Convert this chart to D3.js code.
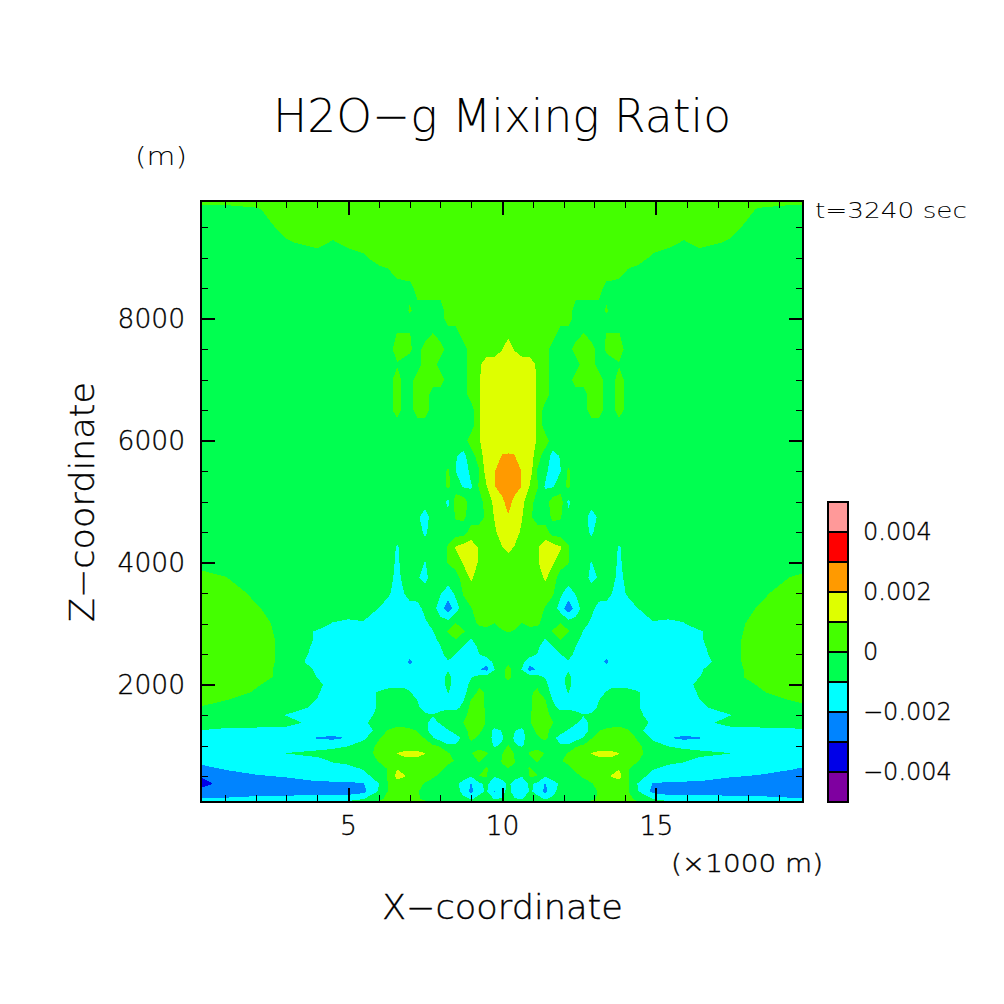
<!DOCTYPE html>
<html>
<head>
<meta charset="utf-8">
<script src="https://cdn.jsdelivr.net/npm/d3@7"></script>
<style>
html, body { margin: 0; padding: 0; background: #fff; }
svg { display: block; }
text { font-family: "DejaVu Sans", sans-serif; font-weight: 200; fill: #000; }
.medium { stroke: #000; stroke-width: 0.35px; }
</style>
</head>
<body>
<svg id="chart" width="1004" height="1004"></svg>
<script>
// band middles, in units of 0.001
const G = -.5, L = .5, C = -1.5, Y = 1.5, O = 2.5;

const bandEdges = [-5, -4, -3, -2, -1, 0, 1, 2, 3, 4];
const bandColors = ['#7f00a0', '#0000e8', '#0084ff', '#00ffff', '#00ff50', '#44ff00', '#deff00', '#ff9a00', '#ff0000', '#ff9999'];

const xMajor = [5, 10, 15];
const xMinor = [1, 2, 3, 4, 6, 7, 8, 9, 11, 12, 13, 14, 16, 17, 18, 19];
const zMajor = [2000, 4000, 6000, 8000];
const zMinor = [500, 1000, 1500, 2500, 3000, 3500, 4500, 5000, 5500, 6500, 7000, 7500, 8500, 9000, 9500];
const legendTicks = [-0.004, -0.002, 0, 0.002, 0.004];

// left half of the field, the picture mirrors it around x = 10.2 km
const xKmHalf = [.225, 1, 2, 3, 4, 4.5, 5, 5.5, 6, 6.3, 6.6, 6.85, 7, 7.25, 7.5, 7.75, 8, 8.25, 8.5, 8.75, 9, 9.25, 9.5, 9.75, 10, 10.2];
const zMetres = [9930, 9800, 9500, 9250, 9000, 8750, 8500, 8125, 8000, 7750, 7500, 7250, 7000, 6750, 6500, 6250, 6000, 5750, 5500, 5250, 5000, 4750, 4500, 4250, 4000, 3750, 3500, 3250, 3000, 2875, 2750, 2625, 2500, 2375, 2250, 2125, 2000, 1875, 1750, 1625, 1500, 1375, 1250, 1125, 1000, 875, 750, 625, 500, 375, 250, 125, 76];

const fieldHalf = [
  [L,L,L,L,L,L,L,L,L,L,L,L,L,L,L,L,L,L,L,L,L,L,L,L,L,L],
  [G,G,-.1,L,L,L,L,L,L,L,L,L,L,L,L,L,L,L,L,L,L,L,L,L,L,L],
  [G,G,G,.3,L,L,L,L,L,L,L,L,L,L,L,L,L,L,L,L,L,L,L,L,L,L],
  [G,G,G,-.1,.3,-.1,.3,L,L,L,L,L,L,L,L,L,L,L,L,L,L,L,L,L,L,L],
  [G,G,G,G,G,G,G,-.2,L,L,L,L,L,L,L,L,L,L,L,L,L,L,L,L,L,L],
  [G,G,G,G,G,G,G,G,G,-.2,.3,L,L,L,L,L,L,L,L,L,L,L,L,L,L,L],
  [G,G,G,G,G,G,G,G,G,G,G,G,G,L,L,L,L,L,L,L,L,L,L,L,L,L],
  [G,G,G,G,G,G,G,G,G,G,G,G,.2,G,G,G,G,L,L,L,L,L,L,L,L,L],
  [G,G,G,G,G,G,G,G,G,G,G,G,G,G,G,G,G,L,L,L,L,L,L,L,L,L],
  [G,G,G,G,G,G,G,G,G,G,.05,.05,.05,G,G,.05,G,G,G,L,L,L,L,L,L,.8],
  [G,G,G,G,G,G,G,G,G,G,L,L,.2,G,L,L,L,G,G,G,L,L,L,L,.95,Y],
  [G,G,G,G,G,G,G,G,G,G,-.1,G,G,G,L,L,G,G,G,G,L,.8,Y,Y,Y,Y],
  [G,G,G,G,G,G,G,G,G,G,L,G,G,L,L,L,L,G,G,G,L,.9,Y,Y,Y,Y],
  [G,G,G,G,G,G,G,G,G,G,L,G,G,L,L,G,G,G,G,G,L,.9,Y,Y,Y,Y],
  [G,G,G,G,G,G,G,G,G,G,L,G,G,L,L,G,G,G,G,G,G,.9,Y,Y,Y,Y],
  [G,G,G,G,G,G,G,G,G,G,G,G,G,G,G,G,G,G,G,G,G,.9,Y,Y,Y,Y],
  [G,G,G,G,G,G,G,G,G,G,G,G,G,G,G,G,G,G,G,G,L,.9,Y,Y,Y,Y],
  [G,G,G,G,G,G,G,G,G,G,G,G,G,G,G,G,G,G,-.95,-1.25,G,L,Y,Y,2.05,2.1],
  [G,G,G,G,G,G,G,G,G,G,G,G,G,G,G,G,G,.15,-1.02,-1.6,-.7,-.1,Y,1.95,O,O],
  [G,G,G,G,G,G,G,G,G,G,G,G,G,G,G,G,G,.2,G,-1.1,-1.1,.1,.95,1.95,O,2.6],
  [G,G,G,G,G,G,G,G,G,G,G,G,G,G,G,G,G,-1.2,L,L,G,G,L,1.2,1.7,O],
  [G,G,G,G,G,G,G,G,G,G,G,G,G,-.8,C,G,G,-.8,.1,.2,G,G,.2,1.05,1.6,1.9],
  [G,G,G,G,G,G,G,G,G,G,G,G,G,G,-1.2,G,G,G,G,G,L,L,L,.8,Y,1.6],
  [G,G,G,G,G,G,G,G,G,G,-1.1,G,G,G,G,G,G,.1,1.1,Y,Y,.9,L,L,.95,1.3],
  [G,G,G,G,G,G,G,G,G,G,-1.2,G,G,G,-1.05,G,G,.05,L,1.1,Y,.9,L,L,L,L],
  [L,.05,G,G,G,G,G,G,G,G,-1.4,G,G,-.9,-1.3,G,G,G,G,L,1.15,L,L,L,L,L],
  [L,L,-.2,G,G,G,G,G,G,-.8,C,-.95,G,G,G,G,-.9,C,-.8,.1,L,L,L,L,L,L],
  [L,L,.1,G,G,G,G,G,-1.02,C,C,C,C,-1.4,-.7,G,-1.6,-2.6,-1.4,G,-.05,L,L,L,L,L],
  [L,L,L,G,G,-1.05,-1.2,-1.1,C,C,C,C,C,C,-1.2,-.7,G,G,.05,G,G,.2,.4,-.05,.4,L],
  [L,L,L,-.4,-1.1,C,C,C,C,C,C,C,C,C,C,-1.05,G,.1,L,.1,G,G,G,G,-.1,.1],
  [L,L,L,-.3,-1.1,C,C,C,C,C,C,C,C,C,C,-1.2,-.8,G,.05,G,-1.03,G,G,G,G,G],
  [L,L,L,-.3,-1.2,C,C,C,C,C,C,C,C,C,C,C,-1.02,G,G,-1.02,C,-.8,G,G,G,G],
  [L,L,L,-.3,-1.3,C,C,C,C,C,C,C,C,C,C,C,-1.2,-.7,-1.02,C,C,-1.02,G,G,G,G],
  [L,L,L,-.3,C,C,C,C,C,C,C,C,-2.3,C,C,C,C,-1.05,C,C,C,C,-1.7,-.7,G,-.3],
  [L,L,L,-.4,-1.1,C,C,C,C,C,C,C,C,C,C,C,C,-1.1,C,C,C,-1.9,-2.3,-1.05,G,L],
  [L,L,L,-.4,-1.02,C,C,C,C,C,C,C,C,C,C,C,C,-.7,C,C,-1.05,-.7,-.6,G,G,L],
  [L,L,.1,G,-.7,C,C,C,C,C,C,C,C,C,C,C,C,-.7,C,C,-.7,-.1,G,G,G,G],
  [L,L,-.1,G,-.9,C,C,C,-.9,G,G,G,-.9,C,C,C,C,-.95,C,-1.3,G,.15,-.1,G,G,G],
  [L,.05,G,G,-1.02,C,C,C,-.9,G,G,G,G,-1.02,C,C,C,C,C,-1.05,.05,L,-.2,G,G,G],
  [-.1,G,G,G,-1.2,C,C,C,-.9,G,G,G,G,-.8,C,C,C,-1.2,-1.3,-.7,.3,L,-.2,G,G,G],
  [G,G,G,-1.05,C,C,C,C,-.7,G,G,G,G,G,-.8,-.95,G,G,G,-.3,.4,L,-.1,G,G,G],
  [G,G,G,G,C,C,C,-1.2,G,G,G,G,G,G,-.8,-1.3,-.9,G,G,.05,L,L,-.1,G,G,G],
  [-1.02,-1.2,-1.3,C,C,C,C,C,-.7,.05,L,.3,.2,-.05,-.7,C,C,-1.05,G,G,L,.3,G,-1.2,-.95,G],
  [-1.2,C,C,C,-2.05,-2.2,-1.95,-1.2,-.1,L,L,L,L,.3,-.05,-.9,C,C,C,-.7,.3,-.2,G,-1.3,-1.1,G],
  [C,C,C,C,C,-1.3,-1.05,-.6,.2,L,L,L,L,L,.4,.1,-.1,-.9,-.9,G,G,G,G,-1.1,-.9,.1],
  [C,C,C,-.98,-.7,-.6,G,G,.3,L,1.02,1.2,1.2,1.2,1.02,L,.4,.1,G,G,-.05,L,.1,G,-.1,1.05],
  [-1.7,-1.6,C,C,-1.3,-.9,-.7,G,.05,L,.8,.8,.8,.8,.8,L,L,.3,-.1,G,G,.1,-.3,G,.05,.7],
  [-2.3,-1.9,-1.6,C,C,-1.4,-1.3,-.9,-.3,.05,.95,L,L,L,L,L,.3,-.3,G,G,G,G,.1,G,-.1,-.05],
  [-2.9,-2.5,-2.1,-1.9,-1.6,C,C,-1.4,G,.05,1.4,1.05,L,L,L,.2,-.3,G,G,G,-.95,.05,.05,-.95,G,G],
  [-3.5,-2.5,-2.5,-2.5,-2.2,-2.2,-2.15,-2.05,-1.02,.05,L,L,L,.4,-.1,G,G,G,-.8,-1.4,-2.05,-1.2,-.8,-1.6,C,-.7],
  [-2.6,-2.5,-2.5,-2.5,-2.5,-2.5,-2.5,-2.3,-.9,.05,L,L,L,.1,-.4,G,G,G,-.6,-1.3,-2.3,-1.2,-.9,-2.05,C,-.6],
  [-1.9,-1.9,-1.7,-1.6,C,C,-1.4,-1.02,-.3,.3,L,L,L,.2,-.3,G,G,G,G,-.8,-1.05,-.8,G,-1.05,-.9,G],
  [C,C,C,C,C,-1.2,-.8,G,.1,.3,.3,.3,.3,.3,.3,.3,.3,.3,.3,.3,.3,.3,.3,.3,.3,.3]
];

const xKm = xKmHalf.concat(xKmHalf.slice(0, -1).reverse().map(d => 20.4 - d));
const fieldRows = fieldHalf.map(row => row.concat(row.slice(0, -1).reverse()));

const svg = d3.select('#chart');
const x = d3.scaleLinear().domain([0.225, 19.775]).range([201, 803]);
const z = d3.scaleLinear().domain([76, 9930]).range([802, 201]);
const legendScale = d3.scaleLinear().domain([-0.005, 0.005]).range([802, 502]);

// contour coordinates have node i at i + 0.5
const atIndex = (values, p) => {
    const t = Math.max(0, Math.min(values.length - 1, p - 0.5));
    const i = Math.min(values.length - 2, Math.floor(t));
    return values[i] + (values[i + 1] - values[i]) * (t - i);
};

const contourPath = (geometry) => geometry.coordinates.map(polygon =>
    polygon.map(ring =>
        'M' + ring.map(p => `${x(atIndex(xKm, p[0]))},${z(atIndex(zMetres, p[1]))}`).join('L') + 'Z'
    ).join('')
).join('');

svg.append('clipPath').attr('id', 'plot-clip')
    .append('rect').attr('x', 201).attr('y', 201).attr('width', 602).attr('height', 601);

const contours = d3.contours()
    .size([xKm.length, zMetres.length])
    .thresholds(bandEdges)(fieldRows.flat());

svg.append('g')
    .attr('clip-path', 'url(#plot-clip)')
    .selectAll('path')
    .data(contours)
    .enter()
    .append('path')
    .attr('d', contourPath)
    .attr('fill', (d, i) => bandColors[i])
    .attr('shape-rendering', 'crispEdges');

const drawTicks = (axis, translate, values, size, width) => {
    const g = svg.append('g').attr('transform', translate)
        .call(axis.tickValues(values).tickSize(size).tickSizeOuter(0).tickFormat(''));
    g.select('.domain').remove();
    g.selectAll('line').attr('stroke', '#000').attr('stroke-width', width).attr('shape-rendering', 'crispEdges');
    return g;
};

[[d3.axisBottom(x), 'translate(0,802)'], [d3.axisTop(x), 'translate(0,201)']].forEach(([axis, t]) => {
    drawTicks(axis, t, xMinor, -7, 1);
    drawTicks(axis, t, xMajor, -14, 2);
});
[[d3.axisLeft(z), 'translate(201,0)'], [d3.axisRight(z), 'translate(803,0)']].forEach(([axis, t]) => {
    drawTicks(axis, t, zMinor, -7, 1);
    drawTicks(axis, t, zMajor, -14, 2);
});

svg.append('rect')
    .attr('x', 201).attr('y', 201).attr('width', 602).attr('height', 601)
    .attr('fill', 'none').attr('stroke', '#000').attr('stroke-width', 2)
    .attr('shape-rendering', 'crispEdges');

const bottomLabels = svg.append('g').attr('transform', 'translate(0,802)')
    .call(d3.axisBottom(x).tickValues(xMajor).tickSize(0).tickPadding(14).tickFormat(d3.format('d')));
bottomLabels.select('.domain').remove();
bottomLabels.selectAll('text').attr('class', 'medium').style('font-size', '26.5px');

const leftLabels = svg.append('g').attr('transform', 'translate(201,0)')
    .call(d3.axisLeft(z).tickValues(zMajor).tickSize(0).tickPadding(16).tickFormat(d3.format('d')));
leftLabels.select('.domain').remove();
leftLabels.selectAll('text').attr('class', 'medium').style('font-size', '26.5px');

// colour bar
const legendBands = bandEdges.map((d, i) => ({ low: d / 1000, high: (d + 1) / 1000, color: bandColors[i] }));
svg.append('g')
    .selectAll('rect')
    .data(legendBands)
    .enter()
    .append('rect')
    .attr('x', 828)
    .attr('width', 20)
    .attr('y', d => legendScale(d.high))
    .attr('height', d => legendScale(d.low) - legendScale(d.high))
    .attr('fill', d => d.color)
    .attr('stroke', '#000')
    .attr('stroke-width', 2)
    .attr('shape-rendering', 'crispEdges');

const legendAxis = svg.append('g').attr('transform', 'translate(848,0)')
    .call(d3.axisRight(legendScale).tickValues(legendTicks).tickSize(0).tickPadding(15)
        .tickFormat(d => d === 0 ? '0' : (d < 0 ? '\u2212' : '') + Math.abs(d).toFixed(3)));
legendAxis.select('.domain').remove();
legendAxis.selectAll('text').attr('class', 'medium').style('font-size', '24px');

const addText = (label, px, py, size, length, cls) => svg.append('text')
    .attr('x', px).attr('y', py)
    .attr('class', cls || null)
    .attr('textLength', length)
    .attr('lengthAdjust', 'spacingAndGlyphs')
    .style('font-size', `${size}px`)
    .text(label);

addText('H2O\u2212g Mixing Ratio', 273, 132, 46, 458);
addText('(m)', 135, 165, 24, 52);
addText('t=3240 sec', 815, 218, 21, 152);
addText('(\u00d71000 m)', 671, 872, 24, 152, 'medium');
addText('X\u2212coordinate', 382, 919, 33, 241, 'medium');

svg.append('text')
    .attr('class', 'medium')
    .attr('transform', 'translate(94,622) rotate(-90)')
    .attr('textLength', 240)
    .attr('lengthAdjust', 'spacingAndGlyphs')
    .style('font-size', '33px')
    .text('Z\u2212coordinate');
</script>
</body>
</html>
